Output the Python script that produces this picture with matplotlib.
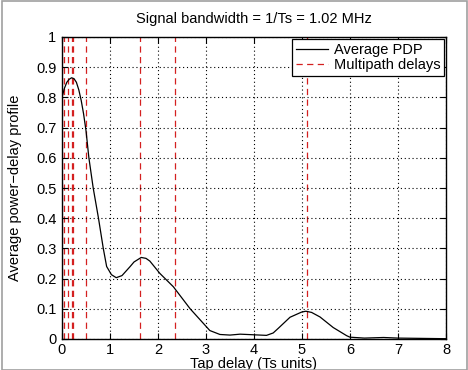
import matplotlib
matplotlib.use("Agg")
import matplotlib.pyplot as plt
from matplotlib.patches import Rectangle

plt.rcParams['font.family'] = ['Liberation Sans', 'DejaVu Sans']

# Average power-delay profile
tap_delay = [0.0, 0.05, 0.1, 0.15, 0.2, 0.25, 0.3, 0.35, 0.4, 0.45, 0.5, 0.56,
             0.65, 0.76, 0.86, 0.93, 1.03, 1.13, 1.25, 1.42, 1.5, 1.65, 1.75,
             1.83, 2.04, 2.32, 2.67, 3.08, 3.29, 3.5, 3.71, 3.99, 4.26, 4.4,
             4.51, 4.75, 4.99, 5.08, 5.2, 5.375, 5.65, 5.93, 6.0, 6.3, 6.7,
             7.0, 7.5, 8.0]
avg_pdp = [0.80, 0.83, 0.85, 0.86, 0.865, 0.862, 0.85, 0.825, 0.79, 0.745,
           0.69, 0.60, 0.50, 0.40, 0.30, 0.24, 0.213, 0.203, 0.21, 0.24,
           0.255, 0.27, 0.267, 0.258, 0.217, 0.173, 0.10, 0.028, 0.015, 0.013,
           0.016, 0.014, 0.012, 0.02, 0.036, 0.072, 0.089, 0.092, 0.088, 0.073,
           0.038, 0.011, 0.006, 0.003, 0.005, 0.003, 0.002, 0.001]

# Multipath delays (Ts units)
multipath_delays = [0.0, 0.05, 0.12, 0.2, 0.23, 0.51, 1.63, 2.35, 5.1]

title_text = "Signal bandwidth = 1/Ts = 1.02 MHz"
xlabel_text = "Tap delay (Ts units)"
ylabel_text = "Average power\u2212delay profile"
x_ticks = [0, 1, 2, 3, 4, 5, 6, 7, 8]
y_ticks = [0, 0.1, 0.2, 0.3, 0.4, 0.5, 0.6, 0.7, 0.8, 0.9, 1]
y_ticklabels = ["0", "0.1", "0.2", "0.3", "0.4", "0.5", "0.6", "0.7", "0.8", "0.9", "1"]

fig = plt.figure(figsize=(4.68, 3.70), dpi=100)
ax = fig.add_axes([62/468, 1 - 339/370, (446-62)/468, (339-37)/370])

ax.plot(tap_delay, avg_pdp, color='black', lw=0.9, label='Average PDP')
for i, d in enumerate(multipath_delays):
    ax.axvline(d, color='#d42020', lw=0.9, ls=(0, (5, 3.5)), zorder=1,
               label='Multipath delays' if i == 0 else None)

ax.set_xlim(0, 8)
ax.set_ylim(0, 1)
ax.set_xticks(x_ticks)
ax.set_yticks(y_ticks)
ax.set_yticklabels(y_ticklabels)
ax.grid(True, color='black', ls=(0, (1, 2.5)), lw=0.8)
ax.tick_params(direction='in', top=True, right=True, labelsize=10.5, length=4,
               width=0.8)
ax.tick_params(axis='x', pad=3)
ax.tick_params(axis='y', pad=4)
for s in ax.spines.values():
    s.set_linewidth(1.0)

ax.set_title(title_text, fontsize=10.5, pad=10)
ax.set_xlabel(xlabel_text, fontsize=10.5, labelpad=0)
ax.set_ylabel(ylabel_text, fontsize=10.5, labelpad=10)

leg = ax.legend(loc='upper right', fontsize=10.5, fancybox=False, framealpha=1,
                edgecolor='black', borderaxespad=0.15, handlelength=2.2,
                borderpad=0.25, labelspacing=0.1, handletextpad=0.4)
leg.get_frame().set_linewidth(0.9)

fig.patches.append(Rectangle((1.5/468, 0), 1 - 3/468, 1 - 1/370, transform=fig.transFigure,
                             fill=False, edgecolor='#a0a0a0', lw=1.2))

fig.savefig('out.png', dpi=100)
